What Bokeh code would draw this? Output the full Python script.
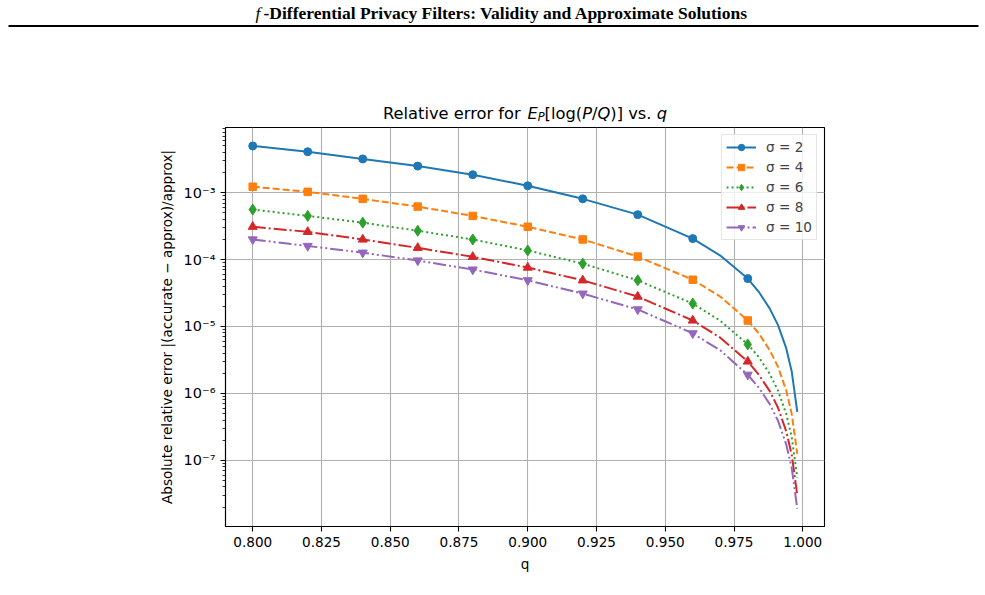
from bokeh.plotting import figure
from bokeh.models import (Range1d, FixedTicker, CustomJSTickFormatter,
                          PrintfTickFormatter, Legend, LegendItem)
from bokeh.layouts import column
from bokeh.embed import file_html
from bokeh.resources import INLINE
from bokeh.core.properties import value

# ---------------------------------------------------------------- data
# mixing parameter q at which the relative error was evaluated
q = [0.80, 0.82, 0.84, 0.86, 0.88, 0.90, 0.92, 0.94, 0.96, 0.97, 0.98,
     0.984, 0.988, 0.991, 0.994, 0.996, 0.998]
# points that carry a marker
q_marked = [0.80, 0.82, 0.84, 0.86, 0.88, 0.90, 0.92, 0.94, 0.96, 0.98]

err_sigma2 = [5.0e-3, 4.1e-3, 3.2e-3, 2.5e-3, 1.86e-3, 1.27e-3, 8.1e-4, 4.7e-4,
              2.06e-4, 1.15e-4, 5.2e-5, 3.3e-5, 1.85e-5, 1.05e-5, 4.7e-6,
              2.1e-6, 5.3e-7]
err_sigma4 = [1.23e-3, 1.03e-3, 8.1e-4, 6.2e-4, 4.5e-4, 3.1e-4, 2.0e-4, 1.11e-4,
              5.0e-5, 2.8e-5, 1.23e-5, 7.9e-6, 4.4e-6, 2.5e-6, 1.1e-6,
              4.9e-7, 1.25e-7]
err_sigma6 = [5.6e-4, 4.5e-4, 3.57e-4, 2.7e-4, 2.0e-4, 1.37e-4, 8.7e-5, 4.9e-5,
              2.2e-5, 1.22e-5, 5.4e-6, 3.5e-6, 1.95e-6, 1.1e-6, 4.9e-7,
              2.2e-7, 5.5e-8]
err_sigma8 = [3.1e-4, 2.6e-4, 2.0e-4, 1.5e-4, 1.1e-4, 7.6e-5, 4.9e-5, 2.8e-5,
              1.23e-5, 6.8e-6, 3.0e-6, 1.9e-6, 1.08e-6, 6.1e-7, 2.7e-7,
              1.2e-7, 3.0e-8]
err_sigma10 = [2.0e-4, 1.6e-4, 1.27e-4, 9.7e-5, 7.1e-5, 4.9e-5, 3.1e-5, 1.8e-5,
               7.9e-6, 4.4e-6, 1.9e-6, 1.22e-6, 6.9e-7, 3.9e-7, 1.72e-7,
               7.6e-8, 1.9e-8]

sigma_labels = ["σ = 2", "σ = 4", "σ = 6", "σ = 8", "σ = 10"]
x_ticks = [0.800, 0.825, 0.850, 0.875, 0.900, 0.925, 0.950, 0.975, 1.000]
y_ticks = [1e-7, 1e-6, 1e-5, 1e-4, 1e-3]

# ---------------------------------------------------------------- styles
colors = ["#1f77b4", "#ff7f0e", "#2ca02c", "#d62728", "#9467bd"]
dashes = ["solid", "7 3", "2 3", "13 3 2 3", "13 3 2 3 2 3"]
markers = ["circle", "square", "diamond", "triangle", "inverted_triangle"]
msizes = [8, 7.5, 11, 9, 9]

W = 985
HEAD_H = 124
FONT = "DejaVu Sans"

# ---------------------------------------------------------------- header strip
head = figure(width=W, height=HEAD_H, x_range=Range1d(0, W), y_range=Range1d(HEAD_H, 0),
              output_backend="svg", toolbar_location=None, min_border=0,
              x_axis_location=None, y_axis_location=None, outline_line_color=None)
head.xgrid.visible = False
head.ygrid.visible = False
head.frame_align = False

HEAD_Y = 12.5
head.text(x=[255], y=[HEAD_Y], text=["f"], text_font=value("Liberation Serif"),
          text_font_style="italic", text_font_size="17.5px",
          text_align="left", text_baseline="alphabetic", text_color="black")
head.text(x=[263], y=[HEAD_Y],
          text=["-Differential Privacy Filters: Validity and Approximate Solutions"],
          text_font=value("Liberation Serif"), text_font_style="bold",
          text_font_size="17.5px", text_align="left", text_baseline="alphabetic",
          text_color="black")
head.segment(x0=[8], y0=[25.5], x1=[978], y1=[25.5], line_width=2, line_color="black")

# plot title, assembled from pieces so the math parts can be italic
ADV = {' ': 651, '(': 799, ')': 799, '.': 651, '/': 690, '[': 799, ']': 799,
       'E': 1294, 'P': 1235, 'Q': 1612, 'R': 1423, 'a': 1255, 'e': 1260,
       'f': 721, 'g': 1300, 'i': 569, 'l': 569, 'o': 1253, 'q': 1300,
       'r': 842, 's': 1067, 't': 803, 'v': 1212}


def advance(s, px):
    return sum(ADV[c] for c in s) / 2048.0 * px


TITLE_PX = 16.3
pieces = [("Relative error for ", "normal", 1.0, 0.0),
          ("E", "italic", 1.0, 0.0),
          ("P", "italic", 0.7, 3.5),
          ("[log(", "normal", 1.0, 0.0),
          ("P", "italic", 1.0, 0.0),
          ("/", "normal", 1.0, 0.0),
          ("Q", "italic", 1.0, 0.0),
          (")] vs. ", "normal", 1.0, 0.0),
          ("q", "italic", 1.0, 0.0)]
total = sum(advance(s, TITLE_PX * k) for s, _, k, _ in pieces)
frame_left, frame_right = 225, W - 161
xpos = (frame_left + frame_right) / 2 - total / 2
title_y = 112.5
for s, style, k, dy in pieces:
    head.text(x=[xpos], y=[title_y + dy], text=[s], text_font=value(FONT),
              text_font_style=style, text_font_size=f"{TITLE_PX * k:.1f}px",
              text_align="left", text_baseline="alphabetic", text_color="black")
    xpos += advance(s, TITLE_PX * k)

# ---------------------------------------------------------------- main chart
p = figure(width=W, height=595 - HEAD_H,
           x_range=Range1d(0.7901, 1.0079), y_range=Range1d(10 ** -7.99, 10 ** -2.025),
           y_axis_type="log", output_backend="svg", toolbar_location=None,
           min_border_left=225, min_border_right=161, min_border_top=3,
           min_border_bottom=69)
p.frame_align = False
p.background_fill_color = "white"
p.border_fill_color = "white"
p.outline_line_color = "black"
p.outline_line_width = 1.1

p.xaxis.ticker = FixedTicker(ticks=x_ticks, minor_ticks=[])
p.xaxis.formatter = PrintfTickFormatter(format="%.3f")
minor = [m * 10.0 ** e for e in range(-9, -1) for m in range(2, 10)]
p.yaxis.ticker = FixedTicker(ticks=y_ticks, minor_ticks=minor)
p.yaxis.formatter = CustomJSTickFormatter(code="""
    const sup = {'-': '\u207b', '0': '\u2070', '1': '\u00b9', '2': '\u00b2', '3': '\u00b3',
                 '4': '\u2074', '5': '\u2075', '6': '\u2076', '7': '\u2077',
                 '8': '\u2078', '9': '\u2079'};
    const e = Math.round(Math.log10(tick));
    return '10' + String(e).split('').map(c => sup[c]).join('');
""")

p.xaxis.axis_label = "q"
p.yaxis.axis_label = "Absolute relative error |(accurate \u2212 approx)/approx|"

for ax in (p.xaxis[0], p.yaxis[0]):
    ax.major_label_text_font = FONT
    ax.major_label_text_font_size = "13.6px"
    ax.major_label_text_color = "black"
    ax.axis_label_text_font = FONT
    ax.axis_label_text_font_size = "13.6px"
    ax.axis_label_text_font_style = "normal"
    ax.axis_label_text_color = "black"
    ax.major_tick_out = 5
    ax.major_tick_in = 0
    ax.minor_tick_out = 3
    ax.minor_tick_in = 0
    ax.major_tick_line_width = 1.1
    ax.minor_tick_line_width = 0.8
    ax.axis_line_width = 1.1
    ax.axis_line_color = "black"
    ax.major_label_standoff = 5
    ax.axis_label_standoff = 6
p.yaxis.major_label_text_font_size = "14.5px"

for g in (p.xgrid[0], p.ygrid[0]):
    g.grid_line_color = "#b0b0b0"
    g.grid_line_width = 1.1

series = [err_sigma2, err_sigma4, err_sigma6, err_sigma8, err_sigma10]
items = []
for label, ys, c, d, m, s in zip(sigma_labels, series, colors, dashes, markers, msizes):
    r_line = p.line(q, ys, line_color=c, line_width=2, line_dash=d)
    mq = [x for x in q if round(x, 3) in q_marked]
    my = [y for x, y in zip(q, ys) if round(x, 3) in q_marked]
    r_pts = p.scatter(mq, my, marker=m, size=s, fill_color=c, line_color=c)
    items.append(LegendItem(label=label, renderers=[r_line, r_pts]))

legend = Legend(items=items, location="top_right", margin=7, padding=4, spacing=4,
                glyph_height=16, glyph_width=30, label_height=16, label_standoff=10,
                label_text_font=FONT, label_text_font_size="13.6px",
                border_line_color="#cccccc", border_line_width=1,
                background_fill_color="white", background_fill_alpha=0.8)
p.add_layout(legend)

layout = column(head, p)
open("out.html", "w").write(file_html(layout, INLINE))
